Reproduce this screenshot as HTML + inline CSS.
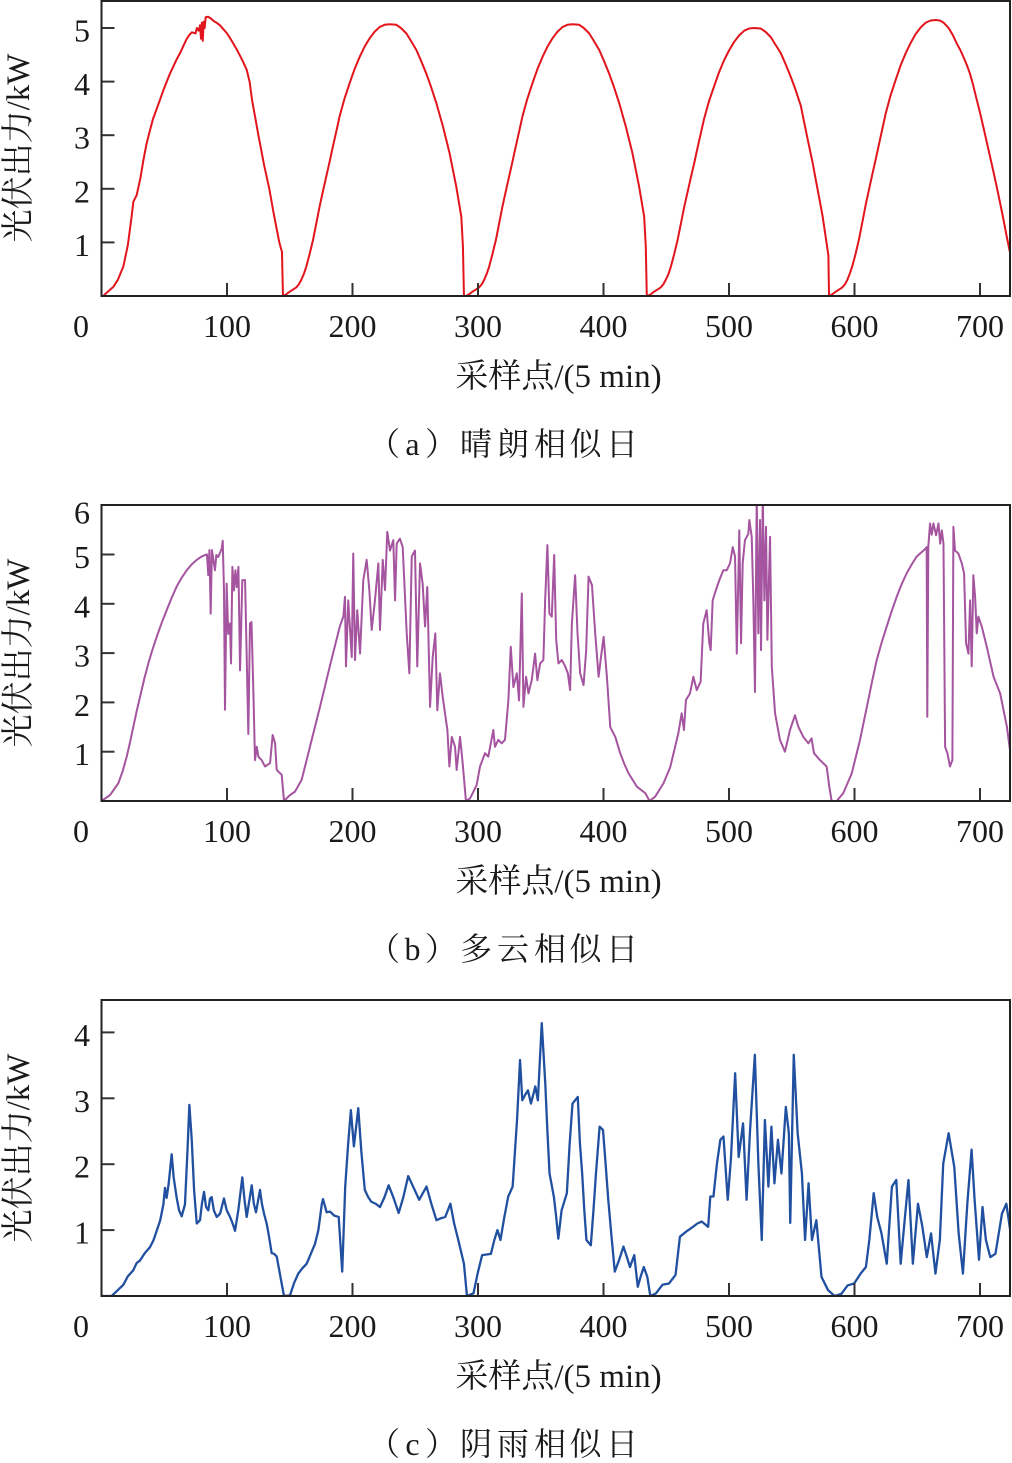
<!DOCTYPE html>
<html><head><meta charset="utf-8"><style>
html,body{margin:0;padding:0;background:#fff;}
svg{display:block;}
text{font-family:"Liberation Serif","Noto Serif CJK SC",serif;fill:#1a1a1a;}
.tk{font-size:32px;}
.xl{font-size:33px;}
.cap{font-size:32px;}
.ln{fill:none;stroke-width:2;stroke-linejoin:round;vector-effect:non-scaling-stroke;}
.fr{fill:none;stroke:#222;stroke-width:2;}
.t{stroke:#333;stroke-width:2;}
</style></head><body>
<svg width="1012" height="1463" viewBox="0 0 1012 1463" xmlns="http://www.w3.org/2000/svg">
<defs>
<clipPath id="ca"><rect x="101.5" y="0" width="908.5" height="296"/></clipPath>
<clipPath id="cb"><rect x="101.5" y="505" width="908.5" height="296"/></clipPath>
<clipPath id="cc"><rect x="101.5" y="1000" width="908.5" height="296"/></clipPath>
</defs>

<!-- Panel (a) -->
<g clip-path="url(#ca)"><g transform="translate(101.5,296) scale(1.255,-53.6)">
<polyline class="ln" stroke="#e2141c" points="0,0 1.4,0 5,0.08 9.4,0.17 13,0.3 17.4,0.55 21,0.95 24,1.48 25.4,1.76 28,1.88 31,2.2 33.5,2.55 36,2.85 38.5,3.08 41,3.3 43.8,3.48 46.6,3.66 49.3,3.84 52,4.0 54.6,4.15 57.2,4.28 60,4.42 63,4.55 65.5,4.68 68,4.8 70,4.87 72,4.92 75,4.9 76,5.0 77.5,4.95 78.5,5.05 79.3,4.8 80,5.1 80.7,4.76 81.4,5.12 82.2,5.0 83,5.2 85,5.21 87,5.18 90,5.12 92.2,5.09 94.4,5.05 97,4.98 100,4.9 102.5,4.81 105,4.71 107.5,4.61 110,4.5 112.8,4.37 115.7,4.22 118,4.0 120,3.65 122.5,3.33 125,3.0 129.5,2.45 133.7,2.0 137.5,1.5 141.7,1.0 143.8,0.82 144.6,0 147.1,0.03 149.9,0.08 152.6,0.12 155.2,0.16 157.3,0.22 159.2,0.3 161.2,0.41 163.2,0.55 165.8,0.78 168.5,1.04 171.1,1.35 173.8,1.67 176.5,1.96 179.1,2.23 181.8,2.51 184.4,2.79 187.1,3.07 189.7,3.35 193.6,3.68 197.7,3.97 201.6,4.23 205.7,4.46 209.6,4.65 213.7,4.81 217.6,4.93 221.7,5.02 225.6,5.06 229.6,5.07 234.9,5.06 238.6,5.0 242.9,4.9 246.6,4.76 250.9,4.59 254.6,4.39 258.8,4.15 262.6,3.9 266.8,3.6 272.1,3.16 277.4,2.66 282.7,2.04 286.7,1.48 288,0.92 288.8,0 290.3,0 292.8,0.03 295.6,0.08 298.3,0.12 300.9,0.16 303,0.22 304.9,0.3 306.9,0.41 308.9,0.55 311.5,0.78 314.2,1.04 316.8,1.35 319.5,1.67 322.2,1.96 324.8,2.23 327.5,2.51 330.1,2.79 332.8,3.07 335.4,3.35 339.3,3.68 343.4,3.97 347.3,4.23 351.4,4.46 355.3,4.65 359.4,4.81 363.3,4.93 367.4,5.02 371.3,5.06 375.3,5.07 380.6,5.06 384.3,5.0 388.6,4.9 392.3,4.76 396.6,4.59 400.3,4.39 404.5,4.15 408.3,3.9 412.5,3.6 417.8,3.16 423.1,2.66 428.4,2.04 432.4,1.48 433.7,0.92 434.5,0 435,0 437.5,0.03 440.3,0.08 443,0.12 445.6,0.16 447.7,0.22 449.6,0.3 451.6,0.4 453.6,0.54 456.2,0.77 458.9,1.03 461.5,1.33 464.2,1.65 466.9,1.93 469.5,2.2 472.2,2.47 474.8,2.75 477.5,3.03 480.1,3.3 484,3.63 488.1,3.91 492,4.17 496.1,4.4 500,4.58 504.1,4.74 508,4.86 512.1,4.95 516,4.99 520,5.0 525.3,4.99 529,4.93 533.3,4.83 537,4.69 541.3,4.53 545,4.33 549.2,4.09 553,3.85 557.2,3.55 562,3.0 566.5,2.5 570.5,2.0 574.5,1.5 578,0.95 579.2,0.75 579.7,0 582.2,0.03 585,0.08 587.7,0.12 590.3,0.16 592.4,0.22 594.3,0.3 596.3,0.42 598.3,0.56 600.9,0.79 603.6,1.06 606.2,1.37 608.9,1.7 611.6,1.99 614.2,2.27 616.9,2.55 619.5,2.83 622.2,3.12 624.8,3.4 628.7,3.74 632.8,4.03 636.7,4.3 640.8,4.53 644.7,4.72 648.8,4.89 652.7,5.01 656.8,5.1 660.7,5.14 664.7,5.15 668,5.14 671,5.1 675,5.0 678.3,4.87 681.5,4.71 684.3,4.59 687,4.45 689.5,4.31 692,4.15 694.5,3.94 697,3.7 699.8,3.44 702.6,3.16 705.3,2.88 708,2.6 710.7,2.32 713.3,2.04 715.9,1.75 718.5,1.45 721.2,1.12 724,0.8 725,0.7"/>
</g></g>
<line class="t" x1="227" y1="296" x2="227" y2="283"/>
<line class="t" x1="352.5" y1="296" x2="352.5" y2="283"/>
<line class="t" x1="478" y1="296" x2="478" y2="283"/>
<line class="t" x1="603.5" y1="296" x2="603.5" y2="283"/>
<line class="t" x1="729" y1="296" x2="729" y2="283"/>
<line class="t" x1="854.5" y1="296" x2="854.5" y2="283"/>
<line class="t" x1="980" y1="296" x2="980" y2="283"/>
<line class="t" x1="101.5" y1="28" x2="114.5" y2="28"/>
<line class="t" x1="101.5" y1="81.6" x2="114.5" y2="81.6"/>
<line class="t" x1="101.5" y1="135.2" x2="114.5" y2="135.2"/>
<line class="t" x1="101.5" y1="188.8" x2="114.5" y2="188.8"/>
<line class="t" x1="101.5" y1="242.4" x2="114.5" y2="242.4"/>
<rect class="fr" x="101.5" y="1" width="908.5" height="295"/>
<g class="tk" text-anchor="end">
<text x="90" y="41.5">5</text><text x="90" y="95.1">4</text><text x="90" y="148.7">3</text><text x="90" y="202.3">2</text><text x="90" y="255.9">1</text>
</g>
<g class="tk" text-anchor="middle">
<text x="81" y="337">0</text><text x="227" y="337">100</text><text x="352.5" y="337">200</text><text x="478" y="337">300</text><text x="603.5" y="337">400</text><text x="729" y="337">500</text><text x="854.5" y="337">600</text><text x="980" y="337">700</text>
</g>
<text class="xl" x="558.5" y="387" text-anchor="middle">采样点/(5 min)</text>
<text class="xl" transform="translate(29,148) rotate(-90)" text-anchor="middle">光伏出力/kW</text>
<text class="cap" y="455"><tspan x="400" text-anchor="end">（</tspan><tspan x="412.5" text-anchor="middle" font-family="Liberation Serif">a</tspan><tspan x="425" text-anchor="start">）</tspan><tspan x="476" text-anchor="middle">晴</tspan><tspan x="513" text-anchor="middle">朗</tspan><tspan x="550" text-anchor="middle">相</tspan><tspan x="585.5" text-anchor="middle">似</tspan><tspan x="622" text-anchor="middle">日</tspan></text>

<!-- Panel (b) -->
<g clip-path="url(#cb)"><g transform="translate(101.5,801) scale(1.255,-49.3)">
<polyline class="ln" stroke="#a5549f" points="0,0 6.8,0.12 13.4,0.36 16.8,0.6 20.1,0.9 22.8,1.2 25.4,1.51 28,1.82 30.7,2.11 34,2.47 37.3,2.79 40.6,3.07 44,3.33 47.9,3.61 51.9,3.87 55.9,4.12 59.9,4.35 63.9,4.53 67.9,4.68 71.9,4.8 75.9,4.89 79.2,4.95 82.5,4.99 84,5.0 85.1,4.58 86,5.09 87,3.8 88,5.09 90.4,4.68 91.5,4.99 93,4.95 95.8,5.12 96.6,5.28 97.6,4.27 98.4,1.85 99.7,4.41 101,3.39 102.4,3.6 103.2,2.79 104.3,4.75 105.6,4.27 106.7,4.68 107.8,4.34 109.1,4.75 110.4,2.65 112.2,4.48 114.4,4.48 115.7,2.92 117,1.36 118.3,3.6 119.5,3.63 121,2.24 122.3,0.83 123.7,1.1 125,0.9 127.6,0.83 130.3,0.7 134.3,0.77 136.4,1.34 138.3,1.17 139.6,0.63 143.6,0.53 145.4,0 150.2,0.12 154.2,0.19 159.5,0.43 166.1,1.1 174.1,1.91 182.1,2.75 190,3.55 192.7,3.74 194,4.14 194.8,2.73 196.6,4.07 199.4,2.92 200.6,5.02 202,2.86 203.8,3.87 206,2.99 208.6,4.48 211.3,4.89 213.4,4.28 215.3,3.47 217.9,4.07 220.6,4.82 221.9,3.47 224.1,4.89 225.9,4.28 227.7,5.46 229.9,5.08 232.5,5.29 233.9,4.07 235.2,5.22 237.8,5.32 240,5.15 243.2,3.4 245.3,2.59 247.2,4.96 249.8,5.08 251.6,2.73 253.8,4.82 255.9,4.41 257.8,3.54 259.6,4.34 261.8,1.91 263.9,2.92 266,3.4 267.6,1.84 269.7,2.59 271.9,2.11 273.7,1.78 275.6,1.44 277.2,0.7 279.1,1.3 281.7,1.1 283,0.63 285.7,1.3 287.8,0.76 290.4,0 293.6,0.05 298.9,0.32 301.6,0.7 305.6,0.97 308.2,0.9 312.2,1.44 313.5,1.1 316.2,1.24 318.9,1.17 321.5,1.24 324.2,2.04 326.1,3.13 328.2,2.31 330.9,2.59 332.7,2.04 334.9,4.21 336.2,1.91 338.3,2.52 340.2,2.18 342.8,2.45 345.5,2.99 347.3,2.45 349.5,2.79 352.1,2.86 353.5,4.07 355.3,5.19 356.9,3.8 358.8,3.74 360.7,4.99 362.3,3.27 364.1,2.79 366.8,2.86 369.5,2.73 371.6,2.59 373.4,2.25 374.8,3.6 377.4,4.58 379.3,3.4 381.4,2.59 384.1,2.35 386.2,3.06 388.1,4.55 390.8,4.38 393.4,3.4 396.1,2.52 398,2.92 400.1,3.33 402.7,2.52 405.4,1.5 409.4,1.3 413.3,0.97 416.6,0.75 420,0.56 426.6,0.29 433.3,0.16 436.7,0 441.2,0.09 447.8,0.36 453.1,0.68 459.6,1.37 462.3,1.78 464.1,1.44 465.7,2.05 468.9,2.18 471.6,2.52 474.3,2.25 477.4,2.42 479.5,3.6 482.2,3.87 484.3,3.2 485.4,3.06 487,4.07 489.6,4.28 492.3,4.48 495.5,4.68 498.2,4.68 500.8,4.82 503,5.15 504.8,4.96 506.2,2.99 507.4,4.48 508.2,5.49 509.6,3.2 510.9,4.82 512.7,5.29 515.4,5.42 516.2,5.7 518.1,5.36 519.4,4.07 520.7,2.21 522.1,6.2 523.4,3.4 524.7,5.7 525.5,3.06 526.9,6.2 528.2,4.07 529.5,5.56 530.6,3.27 532.7,5.36 534.1,2.73 536.7,1.78 540.6,1.24 544.6,1.0 548.6,1.44 552.6,1.74 555.2,1.51 559.2,1.3 563.2,1.17 565.8,1.27 567.7,0.97 572.5,0.83 577.8,0.7 579.9,0.29 581.8,0 585.8,0 591.1,0.16 597.8,0.56 604.4,1.24 611,2.05 614.3,2.46 617.7,2.86 621.7,3.22 625.7,3.54 629.6,3.85 633.6,4.14 637.6,4.4 641.6,4.62 645.6,4.8 649.6,4.96 656.2,5.11 657.5,5.15 658,1.71 658.8,5.15 660.2,5.63 661.5,5.4 662.9,5.63 665,5.39 666.9,5.63 668.3,5.22 669.6,5.49 670.9,5.22 672.2,1.1 674,0.97 676.1,0.7 678,0.83 678.8,5.56 680.1,5.08 682.8,5.02 685.5,4.82 687.3,4.62 688.9,3.2 690.8,2.99 692.1,4.07 693.4,2.73 694.7,4.58 696.1,4.14 697.4,3.4 698.7,3.74 701.4,3.54 705.4,3.13 710.8,2.52 716.1,2.18 721.4,1.51 724.6,0.9"/>
</g></g>
<line class="t" x1="227" y1="801" x2="227" y2="788"/>
<line class="t" x1="352.5" y1="801" x2="352.5" y2="788"/>
<line class="t" x1="478" y1="801" x2="478" y2="788"/>
<line class="t" x1="603.5" y1="801" x2="603.5" y2="788"/>
<line class="t" x1="729" y1="801" x2="729" y2="788"/>
<line class="t" x1="854.5" y1="801" x2="854.5" y2="788"/>
<line class="t" x1="980" y1="801" x2="980" y2="788"/>
<line class="t" x1="101.5" y1="554.5" x2="114.5" y2="554.5"/>
<line class="t" x1="101.5" y1="603.8" x2="114.5" y2="603.8"/>
<line class="t" x1="101.5" y1="653.1" x2="114.5" y2="653.1"/>
<line class="t" x1="101.5" y1="702.4" x2="114.5" y2="702.4"/>
<line class="t" x1="101.5" y1="751.7" x2="114.5" y2="751.7"/>
<rect class="fr" x="101.5" y="505" width="908.5" height="296"/>
<g class="tk" text-anchor="end">
<text x="90" y="523.5">6</text><text x="90" y="568">5</text><text x="90" y="617.3">4</text><text x="90" y="666.6">3</text><text x="90" y="715.9">2</text><text x="90" y="765.2">1</text>
</g>
<g class="tk" text-anchor="middle">
<text x="81" y="842">0</text><text x="227" y="842">100</text><text x="352.5" y="842">200</text><text x="478" y="842">300</text><text x="603.5" y="842">400</text><text x="729" y="842">500</text><text x="854.5" y="842">600</text><text x="980" y="842">700</text>
</g>
<text class="xl" x="558.5" y="892" text-anchor="middle">采样点/(5 min)</text>
<text class="xl" transform="translate(29,653) rotate(-90)" text-anchor="middle">光伏出力/kW</text>
<text class="cap" y="960"><tspan x="400" text-anchor="end">（</tspan><tspan x="412.5" text-anchor="middle" font-family="Liberation Serif">b</tspan><tspan x="425" text-anchor="start">）</tspan><tspan x="476" text-anchor="middle">多</tspan><tspan x="513" text-anchor="middle">云</tspan><tspan x="550" text-anchor="middle">相</tspan><tspan x="585.5" text-anchor="middle">似</tspan><tspan x="622" text-anchor="middle">日</tspan></text>

<!-- Panel (c) -->
<g clip-path="url(#cc)"><g transform="translate(101.5,1296) scale(1.255,-65.9)">
<polyline class="ln" stroke="#2150a0" stroke-width="2.3" style="stroke-width:2.3" points="0,0 8.1,0 12.5,0.08 17.4,0.17 21,0.3 25.3,0.39 28,0.5 30.7,0.54 34.5,0.65 38.6,0.74 41.5,0.85 44,0.99 46.8,1.15 49.3,1.39 50.6,1.64 51.9,1.49 53.5,1.7 55.9,2.15 57.5,1.8 59.9,1.49 61.8,1.3 63.9,1.21 66.5,1.39 68.5,2.2 70,2.9 71.9,2.37 73.8,1.6 75.9,1.1 78.5,1.15 80,1.4 81.7,1.58 83.3,1.35 85.1,1.3 86.5,1.48 87.8,1.5 89.5,1.3 91.8,1.2 94.5,1.25 97.6,1.48 99.8,1.3 102.4,1.2 104.5,1.1 106.4,0.99 109,1.3 112.2,1.8 114,1.45 115.7,1.2 117.8,1.45 119.7,1.68 121.4,1.4 123.1,1.27 126.3,1.61 127.8,1.4 129.5,1.25 131.6,1.1 133.5,0.9 135.6,0.65 137.5,0.64 139.6,0.6 142.5,0.3 145.4,0 150.2,0.01 153.5,0.2 156.8,0.34 160,0.42 163.5,0.49 167,0.65 170.1,0.79 172.8,1.0 175.5,1.39 176.5,1.47 179.4,1.27 182.1,1.28 185.5,1.22 189,1.2 191.8,0.37 194.2,1.66 196.5,2.3 198.7,2.82 201.1,2.27 204.6,2.85 207,2.2 209.8,1.61 212.5,1.5 215,1.43 218.5,1.4 221.9,1.35 225.5,1.5 228.8,1.68 232.5,1.5 236.8,1.26 240.5,1.5 244.4,1.82 248.8,1.64 253.1,1.46 259,1.66 262.8,1.4 266.9,1.15 270.5,1.18 273.9,1.2 278,1.4 281,1.1 284.3,0.85 288.8,0.49 291.2,0 296.4,0.04 299.8,0.35 303.3,0.62 306.8,0.63 310.3,0.64 313,0.85 315.5,1.0 317.9,0.85 321,1.2 324.1,1.51 327.6,1.66 331.1,2.67 333.5,3.58 335.3,2.97 337.5,3.05 339.8,3.12 342.2,2.92 345.7,3.18 347.7,2.97 350.8,4.14 353.6,3.23 355.3,2.5 357,1.86 360.5,1.5 362.3,1.2 364,0.87 366.6,1.3 370.8,1.56 373,2.3 375.3,2.92 379.5,3.02 381.2,2.32 383,1.86 384.7,1.3 386.4,0.85 389.9,0.77 392,1.3 394,1.86 396.9,2.57 399.6,2.52 401.7,2.0 403.8,1.46 406.4,0.9 409,0.37 412.5,0.55 415.9,0.75 418.5,0.6 421.1,0.44 424.5,0.62 427.3,0.14 429.7,0.3 432.1,0.44 434.9,0.29 437.3,0 441.8,0.04 447,0.17 452.2,0.19 457.4,0.32 460.9,0.9 466.1,0.98 471.3,1.05 474.8,1.1 478.2,1.13 483.4,1.05 485.1,1.51 487.6,1.51 490.4,2.01 493.1,2.37 495.6,2.42 499,1.46 501.5,2.07 504.9,3.38 507.7,2.11 511.2,2.62 514,1.46 516.8,2.52 520.6,3.66 523.4,2.01 526.1,0.85 528.6,2.67 531.4,1.66 533.8,2.57 536.2,1.71 539,2.37 541.8,1.86 545.3,2.87 547.7,2.47 548.8,1.11 551.6,3.66 554.7,2.47 558.1,1.86 560.6,0.85 563.4,1.71 566.1,0.85 569.6,1.15 573.7,0.29 578.9,0.09 584.1,0 589.4,0.03 594.5,0.16 599.7,0.19 604.9,0.34 609.1,0.44 611.8,0.85 615.3,1.56 618.1,1.2 621.5,0.95 625.7,0.49 629.8,1.66 633.3,1.76 636.8,0.49 640.2,1.2 643,1.76 646.5,0.49 650.6,1.4 654.1,1.05 657.6,0.59 661,0.95 664.5,0.34 668,0.85 670.7,2.01 675,2.47 679.5,1.96 683,0.95 686.4,0.34 689.9,1.4 693.3,2.22 695.7,1.46 699.2,0.55 702,1.35 704.7,0.85 708.2,0.59 712.3,0.64 717.5,1.25 721,1.4 724.8,0.9"/>
</g></g>
<line class="t" x1="227" y1="1296" x2="227" y2="1283"/>
<line class="t" x1="352.5" y1="1296" x2="352.5" y2="1283"/>
<line class="t" x1="478" y1="1296" x2="478" y2="1283"/>
<line class="t" x1="603.5" y1="1296" x2="603.5" y2="1283"/>
<line class="t" x1="729" y1="1296" x2="729" y2="1283"/>
<line class="t" x1="854.5" y1="1296" x2="854.5" y2="1283"/>
<line class="t" x1="980" y1="1296" x2="980" y2="1283"/>
<line class="t" x1="101.5" y1="1032.4" x2="114.5" y2="1032.4"/>
<line class="t" x1="101.5" y1="1098.3" x2="114.5" y2="1098.3"/>
<line class="t" x1="101.5" y1="1164.2" x2="114.5" y2="1164.2"/>
<line class="t" x1="101.5" y1="1230.1" x2="114.5" y2="1230.1"/>
<rect class="fr" x="101.5" y="1000" width="908.5" height="296"/>
<g class="tk" text-anchor="end">
<text x="90" y="1045.9">4</text><text x="90" y="1111.8">3</text><text x="90" y="1177.7">2</text><text x="90" y="1243.6">1</text>
</g>
<g class="tk" text-anchor="middle">
<text x="81" y="1337">0</text><text x="227" y="1337">100</text><text x="352.5" y="1337">200</text><text x="478" y="1337">300</text><text x="603.5" y="1337">400</text><text x="729" y="1337">500</text><text x="854.5" y="1337">600</text><text x="980" y="1337">700</text>
</g>
<text class="xl" x="558.5" y="1387" text-anchor="middle">采样点/(5 min)</text>
<text class="xl" transform="translate(29,1148) rotate(-90)" text-anchor="middle">光伏出力/kW</text>
<text class="cap" y="1455"><tspan x="400" text-anchor="end">（</tspan><tspan x="412.5" text-anchor="middle" font-family="Liberation Serif">c</tspan><tspan x="425" text-anchor="start">）</tspan><tspan x="476" text-anchor="middle">阴</tspan><tspan x="513" text-anchor="middle">雨</tspan><tspan x="550" text-anchor="middle">相</tspan><tspan x="585.5" text-anchor="middle">似</tspan><tspan x="622" text-anchor="middle">日</tspan></text>
</svg>
</body></html>
